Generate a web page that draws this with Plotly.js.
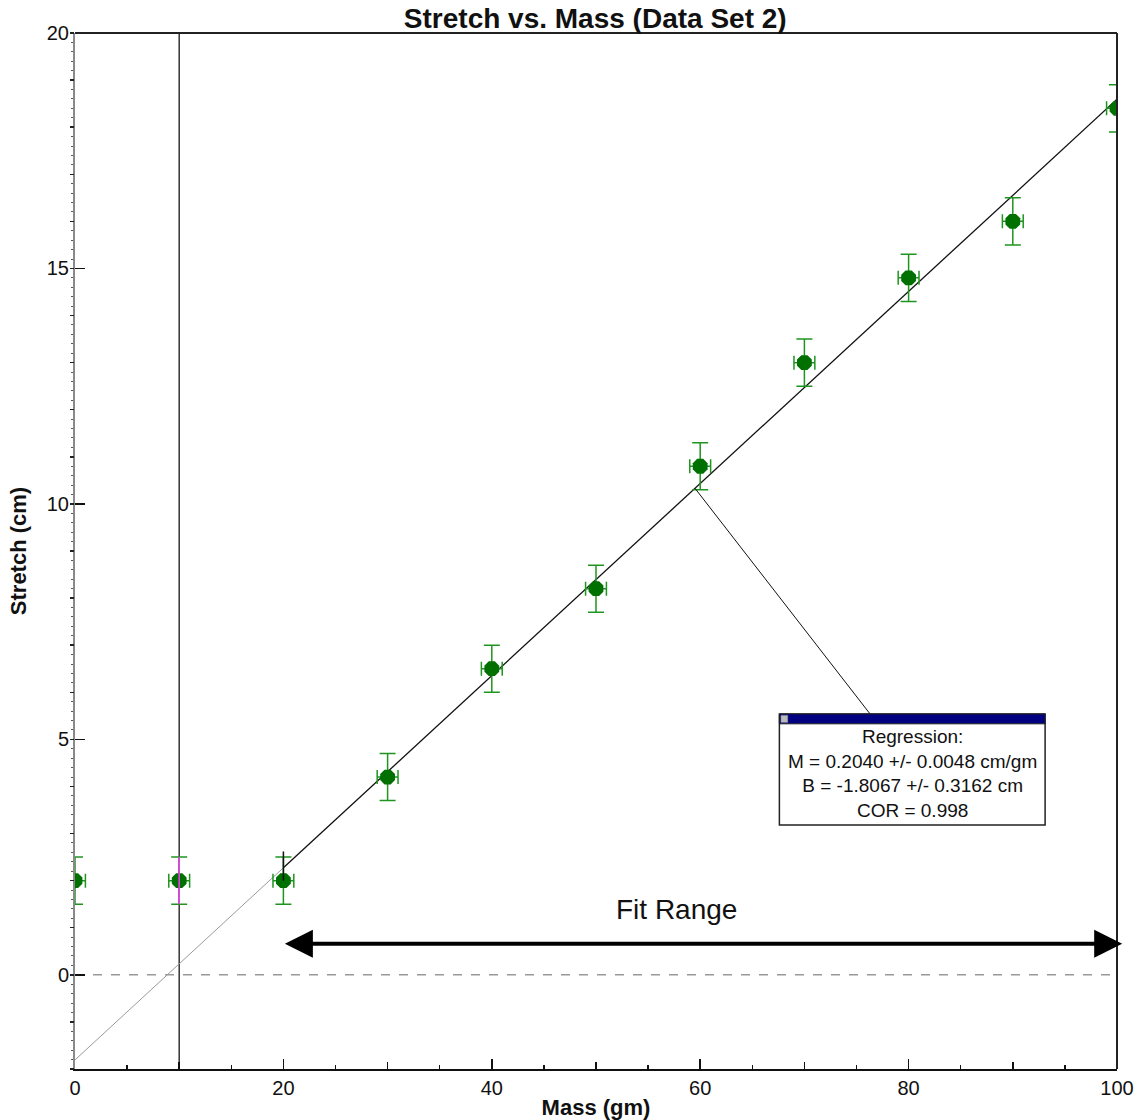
<!DOCTYPE html>
<html>
<head>
<meta charset="utf-8">
<script src="https://cdn.plot.ly/plotly-3.0.1.min.js"></script>
<style>html,body{margin:0;padding:0;background:#fff;}#chart{width:1136px;height:1120px;}</style>
</head>
<body>
<div id="chart"></div>
<script>
// ---- data ----
const mass = [0, 10, 20, 30, 40, 50, 60, 70, 80, 90, 100];
const stretch = [2.0, 2.0, 2.0, 4.2, 6.5, 8.2, 10.8, 13.0, 14.8, 16.0, 18.4];
const stretchErr = [0.5, 0.5, 0.5, 0.5, 0.5, 0.5, 0.5, 0.5, 0.5, 0.5, 0.5];
const massErr = [1, 1, 1, 1, 1, 1, 1, 1, 1, 1, 1];
const slopeM = 0.2040;
const interceptB = -1.8067;
const fitRange = [20, 100];
const fullRange = [0, 20];
const cursorX = 10;
const regressionLines = ["Regression:", "M = 0.2040 +/- 0.0048 cm/gm", "B = -1.8067 +/- 0.3162 cm", "COR = 0.998"];

const fitY = xs => xs.map(x => slopeM * x + interceptB);

const font = "Liberation Sans, Arial, sans-serif";

const traces = [
  {x: fullRange, y: fitY(fullRange), mode: 'lines', line: {color: '#9a9a9a', width: 1}, hoverinfo: 'skip', showlegend: false},
  {x: fitRange, y: fitY(fitRange), mode: 'lines', line: {color: '#111', width: 1.3}, hoverinfo: 'skip', showlegend: false},
  {x: mass, y: stretch, mode: 'markers', showlegend: false,
   marker: {color: '#007000', size: 16, symbol: 'octagon'},
   error_y: {type: 'data', array: stretchErr, visible: true, color: '#1f951f', thickness: 1.5, width: 8},
   error_x: {type: 'data', array: massErr, visible: true, color: '#1f951f', thickness: 1.5, width: 7}},
  // invisible trace for medium-tick axes
  {x: [0], y: [0], xaxis: 'x2', yaxis: 'y2', mode: 'markers', marker: {opacity: 0}, hoverinfo: 'skip', showlegend: false}
];

const boxX = [67.6, 93.1];
const boxY = [3.18, 5.54];

const layout = {
  width: 1136, height: 1120,
  margin: {l: 75, r: 19, t: 33, b: 51},
  paper_bgcolor: '#fff', plot_bgcolor: '#fff',
  font: {family: font, color: '#111', size: 19},
  title: {text: '<b>Stretch vs. Mass (Data Set 2)</b>', font: {family: font, size: 28, color: '#111'}, x: 0.524, xanchor: 'center', y: 0.984, yanchor: 'middle'},
  xaxis: {range: [0, 100], showgrid: false, zeroline: false, showline: true, linecolor: '#111', linewidth: 2,
          tickmode: 'linear', tick0: 0, dtick: 20, ticks: 'inside', ticklen: 10, tickwidth: 1.5, tickcolor: '#111',
          tickfont: {size: 20, family: font, color: '#111'},
          minor: {tick0: 0, dtick: 5, ticks: 'inside', ticklen: 4, tickwidth: 1.5, tickcolor: '#111', showgrid: false},
          title: {text: '<b>Mass (gm)</b>', font: {size: 22, family: font, color: '#111'}, standoff: 4}},
  yaxis: {range: [-2, 20], showgrid: false, zeroline: false, showline: true, linecolor: '#8a8a8a', linewidth: 2,
          tickmode: 'linear', tick0: 0, dtick: 5, ticks: 'inside', ticklen: 10, tickwidth: 1.5, tickcolor: '#111',
          tickfont: {size: 20, family: font, color: '#111'},
          minor: {tick0: 0, dtick: 0.2, ticks: 'outside', ticklen: 2, tickwidth: 1, tickcolor: '#555', showgrid: false},
          title: {text: '<b>Stretch (cm)</b>', font: {size: 22, family: font, color: '#111'}, standoff: 14}},
  xaxis2: {range: [0, 100], overlaying: 'x', anchor: 'y2', side: 'bottom', showgrid: false, zeroline: false, showline: false,
           tickmode: 'linear', tick0: 0, dtick: 10, ticks: 'inside', ticklen: 7, tickwidth: 1.5, tickcolor: '#111', showticklabels: false},
  yaxis2: {range: [-2, 20], overlaying: 'y', anchor: 'x2', side: 'left', showgrid: false, zeroline: false, showline: false,
           tickmode: 'linear', tick0: 0, dtick: 1, ticks: 'outside', ticklen: 4, tickwidth: 1.5, tickcolor: '#222', showticklabels: false},
  shapes: [
    {type: 'line', xref: 'paper', yref: 'paper', x0: 0, x1: 1, y0: 1, y1: 1, line: {color: '#222', width: 2}},
    {type: 'line', xref: 'paper', yref: 'paper', x0: 1, x1: 1, y0: 0, y1: 1, line: {color: '#222', width: 2}},
    {type: 'line', xref: 'paper', yref: 'y', x0: 0, x1: 1, y0: 0, y1: 0, line: {color: '#999', width: 1.5, dash: 'dash'}, layer: 'below'},
    {type: 'line', xref: 'x', yref: 'y', x0: cursorX, x1: cursorX, y0: -1.85, y1: 20, line: {color: '#333', width: 1.5}, layer: 'below'},
    {type: 'line', xref: 'x', yref: 'y', x0: cursorX, x1: cursorX, y0: stretch[1] - stretchErr[1], y1: stretch[1] + stretchErr[1], line: {color: '#ff33ff', width: 1.5}, layer: 'above'},
    {type: 'line', xref: 'x', yref: 'y', x0: fitRange[0], x1: fitRange[0], y0: stretch[2], y1: 2.62, line: {color: '#111', width: 1.5}, layer: 'above'},
    {type: 'line', xref: 'x', yref: 'y', x0: 59.5, x1: 76.3, y0: fitY([59.5])[0], y1: boxY[1], line: {color: '#111', width: 1}},
    {type: 'rect', xref: 'x', yref: 'y', x0: boxX[0], x1: boxX[1], y0: boxY[0], y1: boxY[1], fillcolor: '#fff', line: {color: '#222', width: 1.5}},
    {type: 'rect', xref: 'x', yref: 'y', x0: boxX[0], x1: boxX[1], y0: 5.33, y1: boxY[1], fillcolor: '#000080', line: {color: '#222', width: 1}},
    {type: 'rect', xref: 'x', yref: 'y', x0: boxX[0] + 0.15, x1: boxX[0] + 0.8, y0: 5.36, y1: 5.51, fillcolor: '#bbbbbb', line: {color: '#888', width: 0.5}}
  ],
  annotations: [
    {xref: 'x', yref: 'y', x: (boxX[0] + boxX[1]) / 2, y: 4.28, text: regressionLines.join('<br>'), showarrow: false,
     font: {family: font, size: 19, color: '#111'}, align: 'center', xanchor: 'center', yanchor: 'middle'},
    {xref: 'x', yref: 'y', x: 57.7, y: 1.38, text: 'Fit Range', showarrow: false, font: {family: font, size: 28, color: '#111'}, xanchor: 'center', yanchor: 'middle'},
    {xref: 'x', yref: 'y', axref: 'x', ayref: 'y', x: 100.5, y: 0.66, ax: 20, ay: 0.66, text: '', showarrow: true,
     arrowhead: 2, startarrowhead: 2, arrowside: 'end+start', arrowsize: 1.4, startarrowsize: 1.4, arrowwidth: 4, arrowcolor: '#000'}
  ]
};

Plotly.newPlot('chart', traces, layout, {displayModeBar: false, staticPlot: true});
</script>
</body>
</html>
